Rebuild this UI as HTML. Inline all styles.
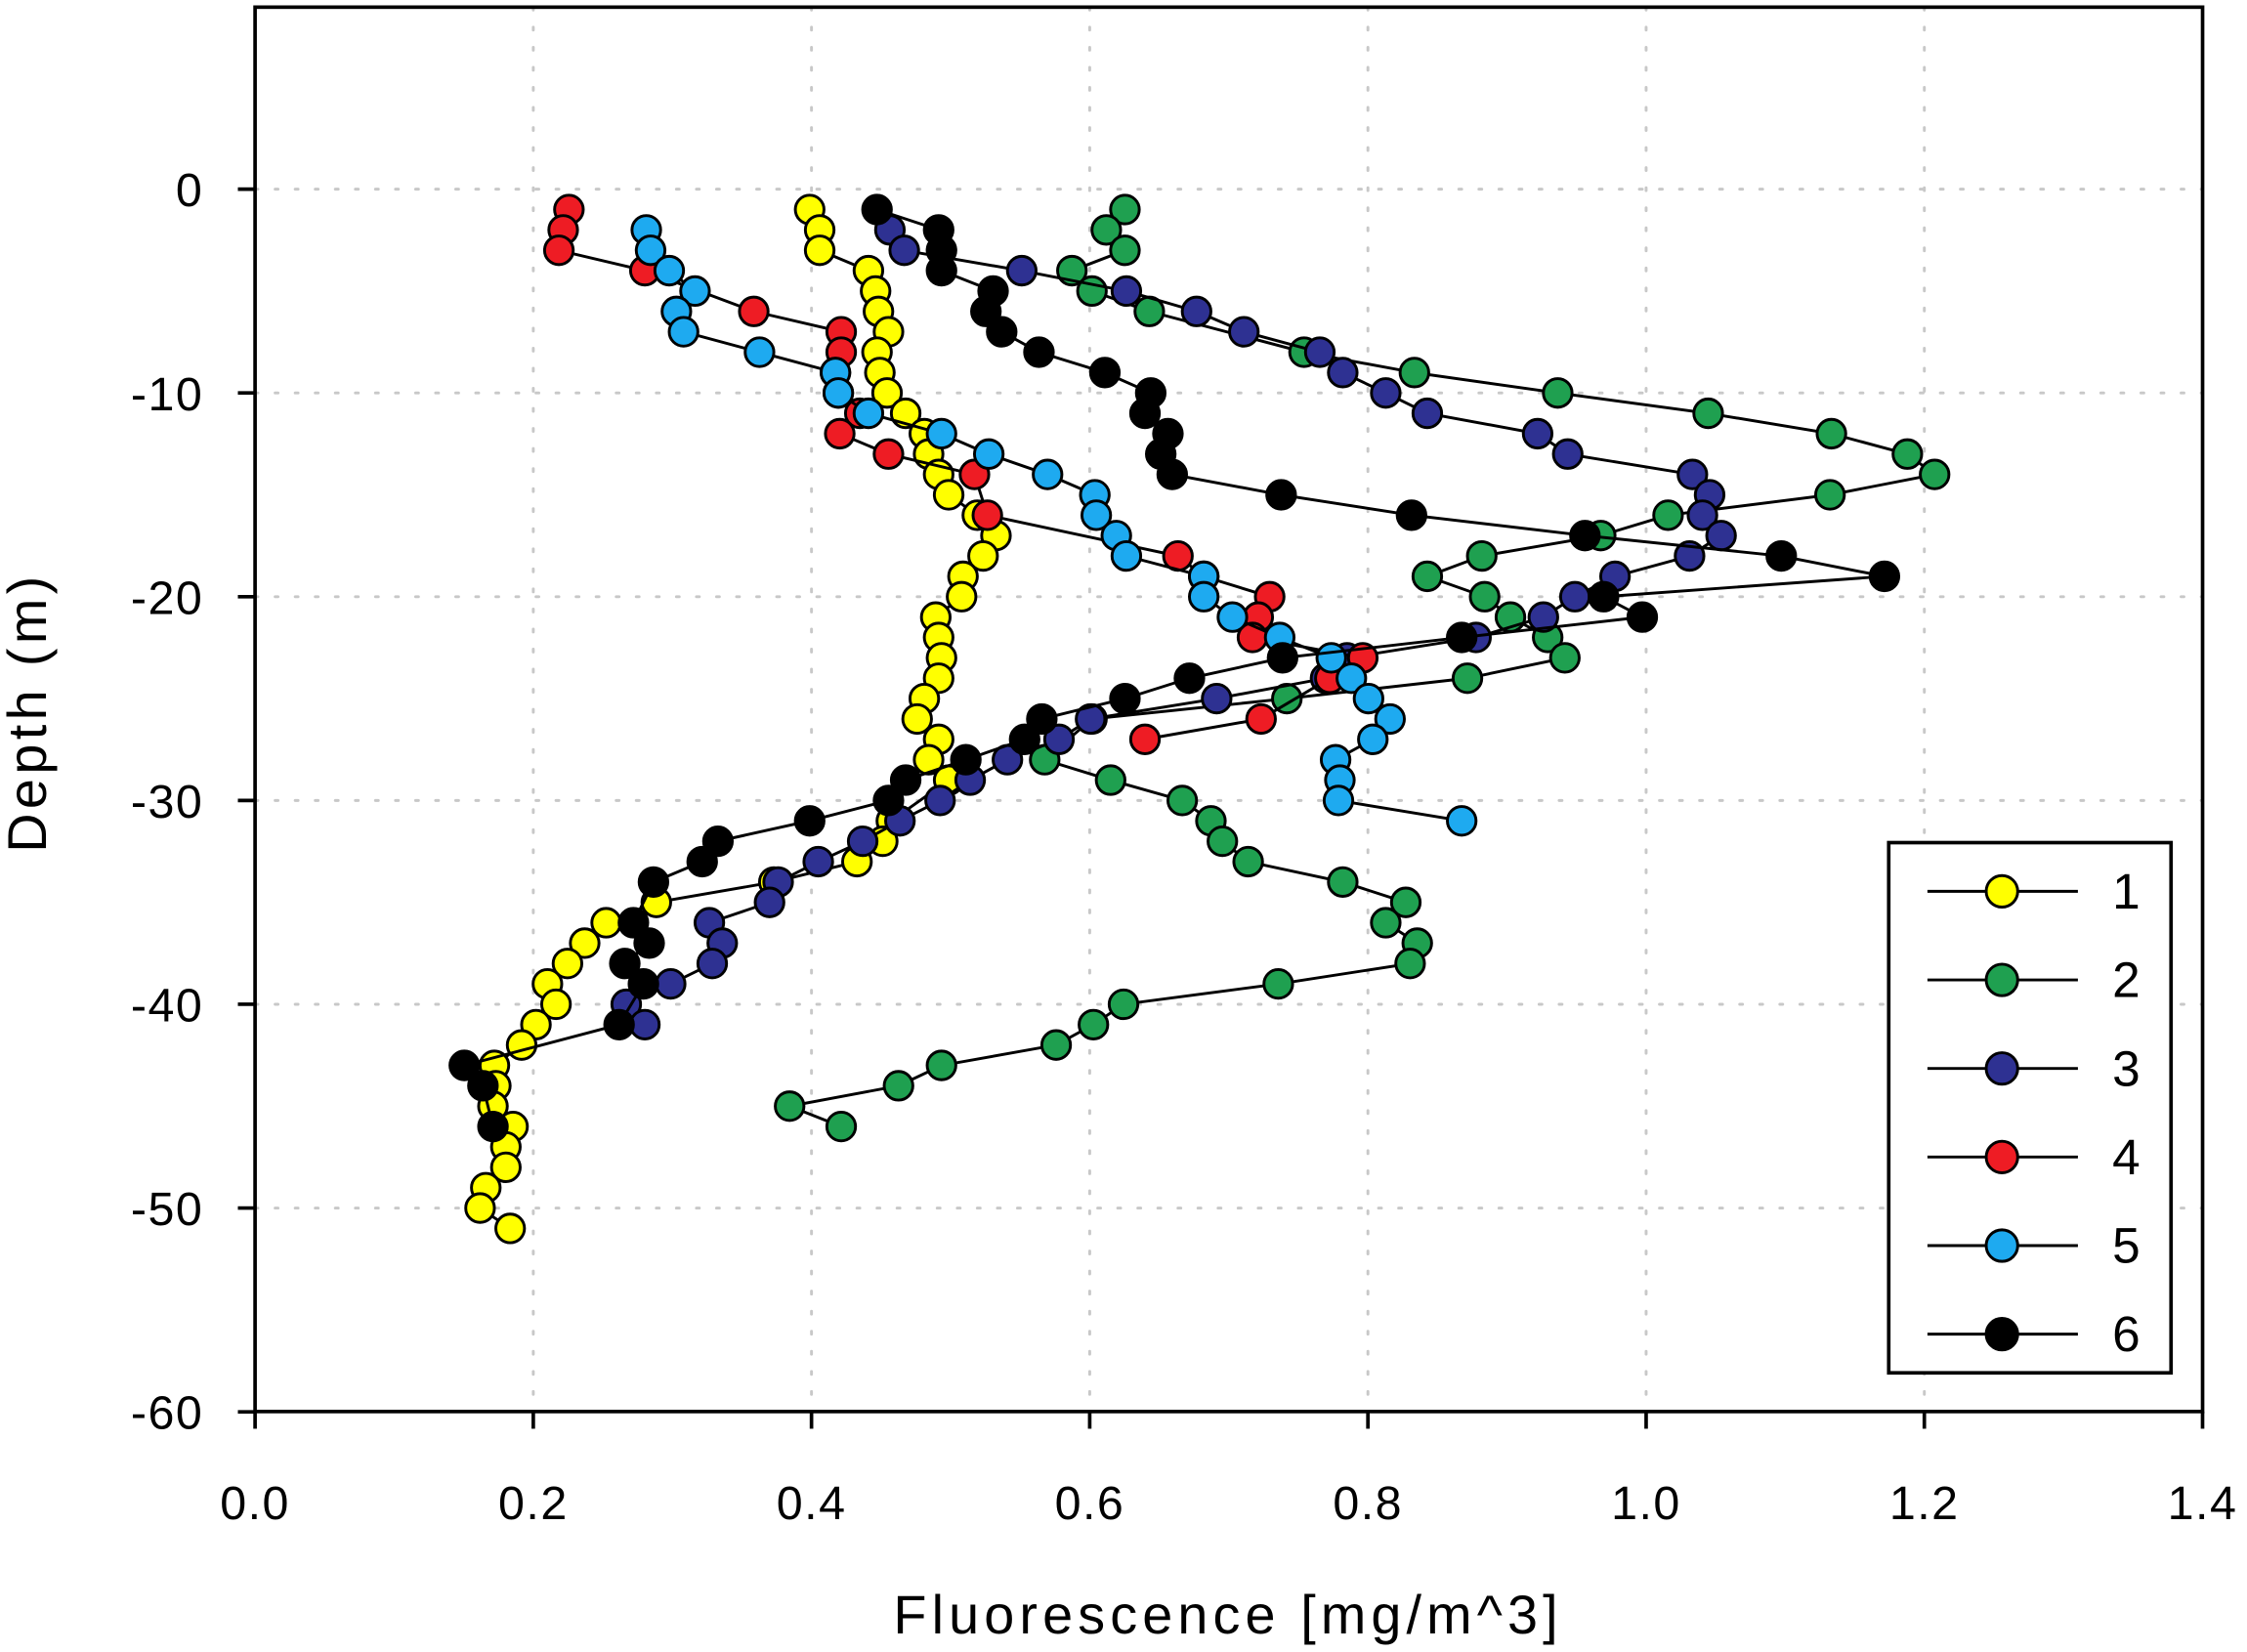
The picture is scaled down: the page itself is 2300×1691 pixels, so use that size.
<!DOCTYPE html>
<html><head><meta charset="utf-8"><style>
html,body{margin:0;padding:0;background:#fff;}
svg{display:block;}
text{font-family:"Liberation Sans",Arial,sans-serif;fill:#000;}
</style></head><body>
<svg id="s" width="2300" height="1691" viewBox="0 0 1568 1152.8" preserveAspectRatio="none" xmlns="http://www.w3.org/2000/svg">
<g id="grid" stroke="#c8c8c8" stroke-width="2" stroke-dasharray="2,12" stroke-linecap="round"></g>
<g id="series"></g>
<rect x="178" y="5" width="1359" height="980" fill="none" stroke="#000" stroke-width="2.5"/>
<g id="ticks" stroke="#000" stroke-width="2.5"></g>
<g id="labels" font-size="33" letter-spacing="1"></g>
<text x="857" y="1140" font-size="38" text-anchor="middle" letter-spacing="3.5">Fluorescence [mg/m^3]</text>
<text transform="translate(32,497) rotate(-90)" font-size="38" text-anchor="middle" letter-spacing="3">Depth (m)</text>
<rect x="1318" y="588" width="197" height="370" fill="#fff" stroke="#000" stroke-width="2.5"/>
<g id="legend"></g>
</svg>
<script>
var NS="http://www.w3.org/2000/svg";
function el(t,a,p){var e=document.createElementNS(NS,t);for(var k in a)e.setAttribute(k,a[k]);p.appendChild(e);return e;}
var X0=178,XS=970.7,Y0=132,YS=14.22;
var grid=document.getElementById('grid'),ticks=document.getElementById('ticks'),lab=document.getElementById('labels');
for(var i=0;i<=7;i++){var x=X0+i*0.2*XS;
 if(i>0&&i<7)el('line',{x1:x,y1:5,x2:x,y2:985},grid);
 el('line',{x1:x,y1:985,x2:x,y2:997},ticks);
 var t=el('text',{x:x,y:1060,'text-anchor':'middle'},lab);t.textContent=(i*0.2).toFixed(1);}
for(var d=0;d<=60;d+=10){var y=Y0+d*YS;
 if(d<60)el('line',{x1:178,y1:y,x2:1537,y2:y},grid);
 el('line',{x1:166,y1:y,x2:178,y2:y},ticks);
 var t=el('text',{x:142,y:y+12,'text-anchor':'end'},lab);t.textContent=d==0?'0':'-'+d;}
var S=[
["#ffff00",[[1,565],[2,572],[3,572],[4,606],[5,611],[6,613],[7,620],[8,612],[9,614],[10,619],[11,632],[12,645],[13,648],[14,655],[15,662],[16,682],[17,695],[18,686],[19,672],[20,671],[21,653],[22,655],[23,657],[24,655],[25,645],[26,640],[27,655],[28,648],[29,662],[31,622],[32,616],[33,598],[34,540],[35,458],[36,423],[37,408],[38,396],[39,382],[40,388],[41,374],[42,364],[43,345],[44,346],[45,344],[46,358],[47,353],[48,353],[49,339],[50,335],[51,356]]],
["#1fa050",[[1,785],[2,772],[3,785],[4,748],[5,762],[6,802],[8,910],[9,987],[10,1087],[11,1192],[12,1278],[13,1331],[14,1350],[15,1277],[16,1164],[17,1117],[18,1034],[19,996],[20,1036],[21,1054],[22,1080],[23,1092],[24,1024],[25,898],[26,762],[28,729],[29,775],[30,825],[31,845],[32,853],[33,871],[34,937],[35,981],[36,967],[37,989],[38,984],[39,892],[40,784],[41,763],[42,737],[43,657],[44,627],[45,551],[46,587]]],
["#2e3192",[[2,621],[3,631],[4,713],[5,786],[6,835],[7,868],[8,921],[9,937],[10,967],[11,996],[12,1073],[13,1094],[14,1181],[15,1193],[16,1188],[17,1201],[18,1179],[19,1127],[20,1099],[21,1077],[22,1030],[23,940],[24,925],[25,849],[26,761],[27,739],[28,703],[29,677],[30,656],[31,628],[32,602],[33,571],[34,543],[35,537],[36,495],[37,504],[38,497],[39,468],[40,437],[41,450]]],
["#ee1c24",[[1,397],[2,393],[3,390],[4,450],[6,526],[7,587],[8,587],[9,583],[10,585],[11,600],[12,586],[13,620],[14,680],[16,689],[18,822],[19,840],[20,886],[21,878],[22,874],[23,951],[24,928],[26,880],[27,799]]],
["#1eaaf0",[[2,451],[3,454],[4,467],[5,485],[6,472],[7,477],[8,530],[9,583],[10,585],[11,606],[12,657],[13,690],[14,731],[15,764],[16,765],[17,779],[18,786],[19,840],[20,840],[21,860],[22,893],[23,929],[24,943],[25,955],[26,970],[27,958],[28,932],[29,935],[30,934],[31,1020]]],
["#000000",[[1,612],[2,655],[3,657],[4,657],[5,693],[6,688],[7,699],[8,725],[9,771],[10,803],[11,799],[12,815],[13,810],[14,818],[15,894],[16,985],[17,1106],[18,1243],[19,1315],[20,1119],[21,1146],[22,1020],[23,895],[24,830],[25,785],[26,727],[27,715],[28,674],[29,632],[30,620],[31,565],[32,501],[33,490],[34,456],[36,442],[37,453],[38,436],[39,449],[41,432],[43,324],[44,337],[46,344]]]];
var sg=document.getElementById('series');
S.forEach(function(s){var c=s[0],p=s[1];var pts=p.map(function(q){return q[1]+','+(Y0+q[0]*YS).toFixed(1);});
 el('polyline',{points:pts.join(' '),fill:'none',stroke:'#000','stroke-width':2},sg);
 p.forEach(function(q){el('circle',{cx:q[1],cy:Y0+q[0]*YS,r:10,fill:c,stroke:'#000','stroke-width':2},sg);});});
var lg=document.getElementById('legend');
S.forEach(function(s,i){var y=622+i*61.8;
 el('line',{x1:1345,y1:y,x2:1450,y2:y,stroke:'#000','stroke-width':2},lg);
 el('circle',{cx:1397,cy:y,r:11,fill:s[0],stroke:'#000','stroke-width':2},lg);
 var t=el('text',{x:1474,y:y+12,'font-size':35},lg);t.textContent=String(i+1);});
</script>
</body></html>
